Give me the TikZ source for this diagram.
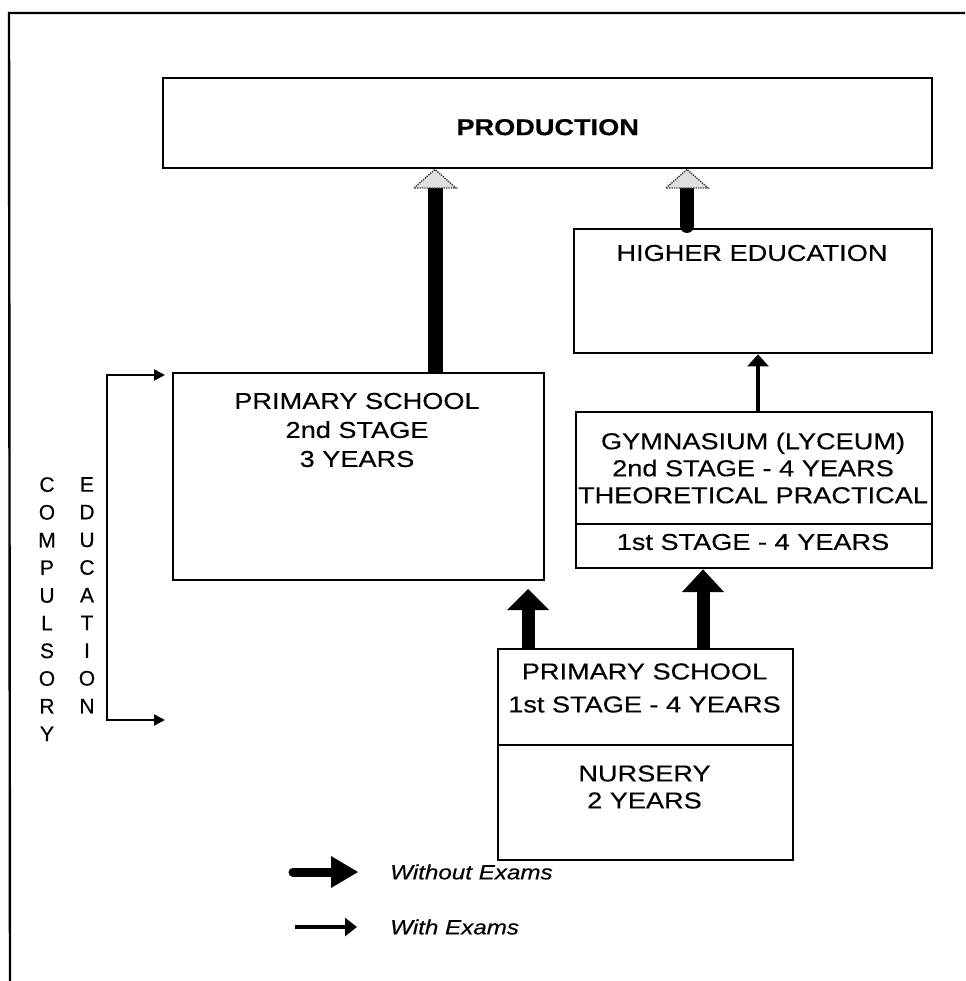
\documentclass[tikz,border=0pt]{standalone}
\usepackage{fontspec}
\setmainfont{Liberation Sans}[FakeStretch=1.18, FakeBold=0.4]
\newfontfamily\plainsans{Liberation Sans}[FakeBold=0.4]
\usetikzlibrary{arrows.meta,calc}

\begin{document}
\begin{tikzpicture}[x=1pt,y=-1pt,
  box/.style={draw, line width=2.4pt, inner sep=0pt, anchor=north west},
  txt/.style={font=\fontsize{23}{27}\selectfont, align=center, inner sep=0pt},
  legendtxt/.style={font=\itshape\fontsize{20.5}{24}\selectfont, anchor=west, inner sep=0pt},
  vtxt/.style={font=\plainsans\fontsize{21}{27.7}\selectfont, align=center, inner sep=0pt, anchor=north},
  fatshaft/.style={line width=14pt},
  thinshaft/.style={line width=4.5pt},
  dothead/.style={fill=black!12, draw=black!75, densely dotted, line width=1.4pt},
]
\useasboundingbox (0,0) rectangle (965,981);

% outer frame (left and top edges)
\draw[line width=2.4pt] (10,981) -- (9,13) -- (965,13);

% boxes
\node[box, minimum width=769pt, minimum height=90pt] (prod) at (162,77) {};
\node[txt, font=\bfseries\fontsize{23}{27}\selectfont] (prodt) at ($(prod.center)+(0,4)$) {PRODUCTION};

\node[box, minimum width=358pt, minimum height=124pt] (higher) at (573,228) {};
\node[txt] (highert) at (752,253) {HIGHER EDUCATION};

\node[box, minimum width=356pt, minimum height=112pt] (gymtop) at (575,411) {};
\node[box, minimum width=356pt, minimum height=44pt] (gymlow) at (575,523) {};
\node[txt] (gymt) at (753,468) {GYMNASIUM (LYCEUM)\\2nd STAGE - 4 YEARS\\THEORETICAL PRACTICAL};
\node[txt] (gymlt) at (753,542) {1st STAGE - 4 YEARS};

\node[box, minimum width=371pt, minimum height=207pt] (ptwo) at (172,372) {};
\node[txt, font=\fontsize{23}{29}\selectfont] (ptwot) at (357,430) {PRIMARY SCHOOL\\2nd STAGE\\3 YEARS};

\node[box, minimum width=295pt, minimum height=96pt] (pone) at (497,648) {};
\node[box, minimum width=295pt, minimum height=115pt] (nursery) at (497,744) {};
\node[txt, font=\fontsize{23}{33}\selectfont] (ponet) at (644.5,688) {PRIMARY SCHOOL\\1st STAGE - 4 YEARS};
\node[txt] (nurseryt) at (644.5,787) {NURSERY\\2 YEARS};

% primary school 2nd stage -> production
\coordinate (hl) at (435,188);
\draw[line width=15pt] (ptwo.north -| hl) -- (hl);
\draw[dothead] ($(hl)+(-21,0)$) -- (hl |- prod.south) -- ($(hl)+(21,0)$) -- cycle;

% higher education -> production
\coordinate (hr) at (687,188);
\draw[line width=14pt, line cap=round] ($(higher.north -| hr)+(0,-2)$) -- (hr);
\draw[dothead] ($(hr)+(-21,0)$) -- (hr |- prod.south) -- ($(hr)+(21,0)$) -- cycle;

% gymnasium -> higher education (with exams)
\draw[thinshaft, -{Triangle[width=21pt,length=12pt]}] (gymtop.north -| 758,0) -- (higher.south -| 758,0);

% primary school 1st stage -> primary school 2nd stage (without exams)
\coordinate (ta) at (528,589);
\draw[fatshaft, line width=13pt] (pone.north -| ta) -- ($(ta)+(0,21)$);
\fill ($(ta)+(-21,21)$) -- (ta) -- ($(ta)+(21,21)$) -- cycle;

% primary school 1st stage -> gymnasium (without exams)
\coordinate (tb) at (703,568);
\draw[fatshaft, line width=13pt] (pone.north -| tb) -- ($(tb)+(0,24)$);
\fill ($(tb)+(-21,24)$) -- (gymlow.south -| tb) -- ($(tb)+(21,24)$) -- cycle;

% compulsory education bracket
\coordinate (brtop) at (165,375);
\coordinate (brbend) at (107,720);
\coordinate (brbot) at (165,720);
\draw[line width=2.4pt, {Triangle[width=11pt,length=11pt]}-{Triangle[width=11pt,length=11pt]}] (brtop) -| (brbend) -- (brbot);
\node[vtxt] (compw) at (47,477) {C\\O\\M\\P\\U\\L\\S\\O\\R\\Y};
\node[vtxt] (eduw) at (87,477) {E\\D\\U\\C\\A\\T\\I\\O\\N};

% legend
\coordinate (lga) at (293,872);
\coordinate (lgb) at (358,872);
\draw[line width=9pt, line cap=round] (lga) -- ($(lgb)+(-27,0)$);
\fill ($(lgb)+(-27,-16)$) -- (lgb) -- ($(lgb)+(-27,16)$) -- cycle;
\node[legendtxt] (lgat) at (390,872) {Without Exams};

\coordinate (lgc) at (295,927);
\coordinate (lgd) at (357,927);
\draw[thinshaft, line width=4pt, -{Triangle[width=18pt,length=12pt]}] (lgc) -- (lgd);
\node[legendtxt] (lgct) at (390,927) {With Exams};
\end{tikzpicture}
\end{document}
